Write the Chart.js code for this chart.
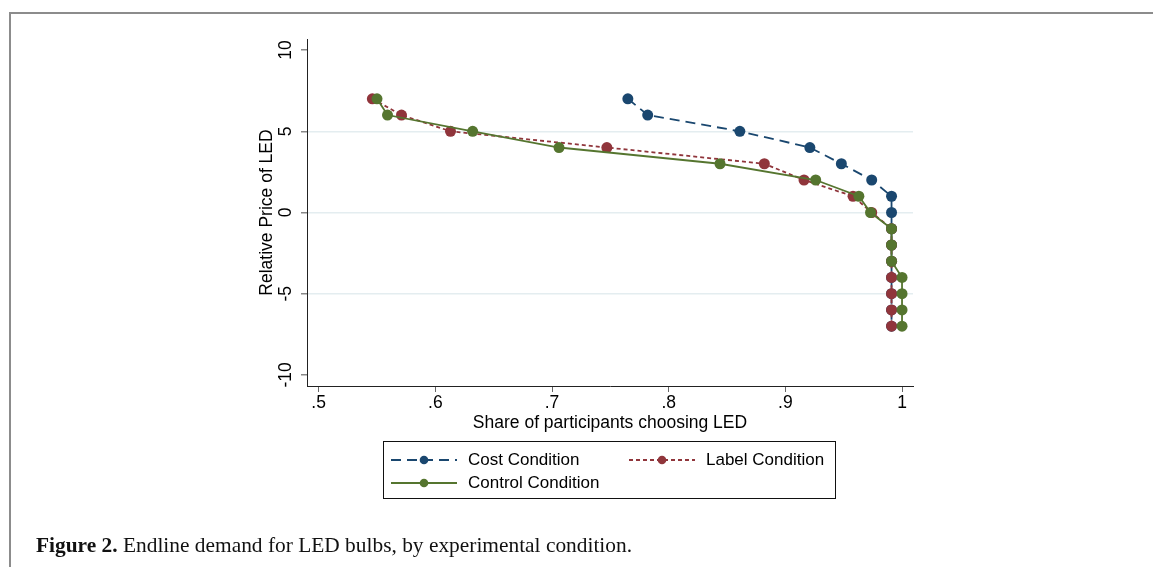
<!DOCTYPE html>
<html>
<head>
<meta charset="utf-8">
<script src="https://cdn.jsdelivr.net/npm/chart.js@4.4.1/dist/chart.umd.min.js"></script>
<style>
  html, body { margin: 0; padding: 0; background: #fff; }
  #page { position: relative; width: 1153px; height: 567px; overflow: hidden; background: #fff; }
  #frame { position: absolute; left: 9px; top: 12px; width: 1150px; height: 560px;
           border-top: 2px solid #8c8c8c; border-left: 2px solid #8c8c8c; }
  #chart { position: absolute; left: 0; top: 0; }
  #legend { position: absolute; left: 383px; top: 441px; width: 453px; height: 58px;
            border: 1px solid #111; box-sizing: border-box; font-family: "Liberation Sans", Arial, sans-serif;
            font-size: 17px; color: #000; }
  .item { position: absolute; height: 20px; }
  .item svg { position: absolute; left: 0; top: 0; }
  .item span { position: absolute; top: 0; line-height: 20px; white-space: nowrap; }
  #caption { position: absolute; left: 36px; top: 533px; font-family: "Liberation Serif", "Times New Roman", serif;
             font-size: 21.4px; color: #111; white-space: nowrap; }
</style>
</head>
<body>
<div id="page">
  <div id="frame"></div>
  <canvas id="chart" width="1153" height="567"></canvas>
  <div id="legend"></div>
  <div id="caption"><b>Figure 2.</b> Endline demand for LED bulbs, by experimental condition.</div>
</div>
<script>
// relative price levels shown to participants
const prices = [7, 6, 5, 4, 3, 2, 1, 0, -1, -2, -3, -4, -5, -6, -7];

// share choosing LED at each price
const costShare    = [0.765, 0.782, 0.861, 0.921, 0.948, 0.974, 0.991, 0.991, 0.991, 0.991, 0.991, 0.991, 0.991, 0.991, 0.991];
const labelShare   = [0.546, 0.571, 0.613, 0.747, 0.882, 0.916, 0.958, 0.974, 0.991, 0.991, 0.991, 0.991, 0.991, 0.991, 0.991];
const controlShare = [0.550, 0.559, 0.632, 0.706, 0.844, 0.926, 0.963, 0.973, 0.991, 0.991, 0.991, 1.000, 1.000, 1.000, 1.000];

const seriesNames = ['Cost Condition', 'Label Condition', 'Control Condition'];

const xTicks = [0.5, 0.6, 0.7, 0.8, 0.9, 1];
const xTickLabels = ['.5', '.6', '.7', '.8', '.9', '1'];
const yTicks = [-10, -5, 0, 5, 10];
const yTickLabels = ['-10', '-5', '0', '5', '10'];
const yGridValues = [-5, 0, 5];

const COLORS = ['#1a476f', '#90353b', '#55752f'];
const DASHES = [[10, 6], [4, 3], []];
const FONT = '"Liberation Sans", Arial, sans-serif';
const AXIS_FONT = 17.5;

function toPoints(shares) {
    return shares.map((s, i) => ({ x: s, y: prices[i] }));
}

const allShares = [costShare, labelShare, controlShare];
const datasets = allShares.map((shares, i) => ({
    label: seriesNames[i],
    data: toPoints(shares),
    showLine: true,
    borderColor: COLORS[i],
    backgroundColor: COLORS[i],
    borderWidth: 1.8,
    borderDash: DASHES[i],
    pointRadius: 5.5,
    pointBorderWidth: 0,
    pointBackgroundColor: COLORS[i],
    order: 3 - i   // control drawn on top, cost at the bottom
}));

// y tick labels are rotated and centred on the tick, like Stata
const yLabelPlugin = {
    id: 'yLabels',
    afterDraw(chart) {
        const ys = chart.scales.y;
        const ctx = chart.ctx;
        ctx.save();
        ctx.fillStyle = '#000';
        ctx.font = AXIS_FONT + 'px ' + FONT;
        ctx.textAlign = 'center';
        ctx.textBaseline = 'middle';
        yTicks.forEach((v, i) => {
            ctx.save();
            ctx.translate(286, ys.getPixelForValue(v));
            ctx.rotate(-Math.PI / 2);
            ctx.fillText(yTickLabels[i], 0, 0);
            ctx.restore();
        });
        ctx.restore();
    }
};

new Chart(document.getElementById('chart').getContext('2d'), {
    type: 'scatter',
    data: { datasets },
    plugins: [yLabelPlugin],
    options: {
        responsive: false,
        animation: false,
        layout: { padding: { left: 257, top: 39, right: 240, bottom: 133.5 } },
        plugins: { legend: { display: false }, tooltip: { enabled: false } },
        scales: {
            x: {
                type: 'linear',
                min: 0.49,
                max: 1.0094,
                afterBuildTicks: (s) => { s.ticks = xTicks.map(v => ({ value: v })); },
                afterFit: (s) => { s.height = 47.5; },
                ticks: {
                    color: '#000',
                    font: { family: FONT, size: AXIS_FONT },
                    padding: 1,
                    maxRotation: 0,
                    callback: (v) => xTickLabels[xTicks.indexOf(v)]
                },
                grid: { drawOnChartArea: false, tickLength: 6, tickColor: '#666' },
                border: { color: '#222', width: 1 },
                title: {
                    display: true,
                    text: 'Share of participants choosing LED',
                    color: '#000',
                    font: { family: FONT, size: AXIS_FONT },
                    padding: 0
                }
            },
            y: {
                type: 'linear',
                min: -10.68,
                max: 10.68,
                afterBuildTicks: (s) => { s.ticks = yTicks.map(v => ({ value: v })); },
                afterFit: (s) => { s.width = 50; },
                ticks: { display: false },
                grid: {
                    color: (c) => (c.tick && yGridValues.includes(c.tick.value)) ? '#e4edf0' : 'rgba(0,0,0,0)',
                    lineWidth: 1.5,
                    tickLength: 6,
                    tickColor: '#888'
                },
                border: { color: '#222', width: 1 },
                title: {
                    display: true,
                    text: 'Relative Price of LED',
                    color: '#000',
                    font: { family: FONT, size: AXIS_FONT },
                    padding: 0
                }
            }
        }
    }
});

// legend box, two columns like the Stata original
const legendPos = [
    { left: 7, top: 8, textLeft: 84, width: 66 },
    { left: 245, top: 8, textLeft: 322, width: 66 },
    { left: 7, top: 31, textLeft: 84, width: 66 }
];
const legend = document.getElementById('legend');
seriesNames.forEach((name, i) => {
    const p = legendPos[i];
    const item = document.createElement('div');
    item.className = 'item';
    item.style.left = p.left + 'px';
    item.style.top = p.top + 'px';
    const dash = DASHES[i].length ? DASHES[i].join(' ') : 'none';
    item.innerHTML =
        `<svg width="${p.width}" height="20"><line x1="0" y1="10" x2="${p.width}" y2="10" stroke="${COLORS[i]}" stroke-width="1.8" stroke-dasharray="${dash}"/>` +
        `<circle cx="${p.width / 2}" cy="10" r="4.3" fill="${COLORS[i]}"/></svg>` +
        `<span style="left:${p.textLeft - p.left}px">${name}</span>`;
    legend.appendChild(item);
});
</script>
</body>
</html>
